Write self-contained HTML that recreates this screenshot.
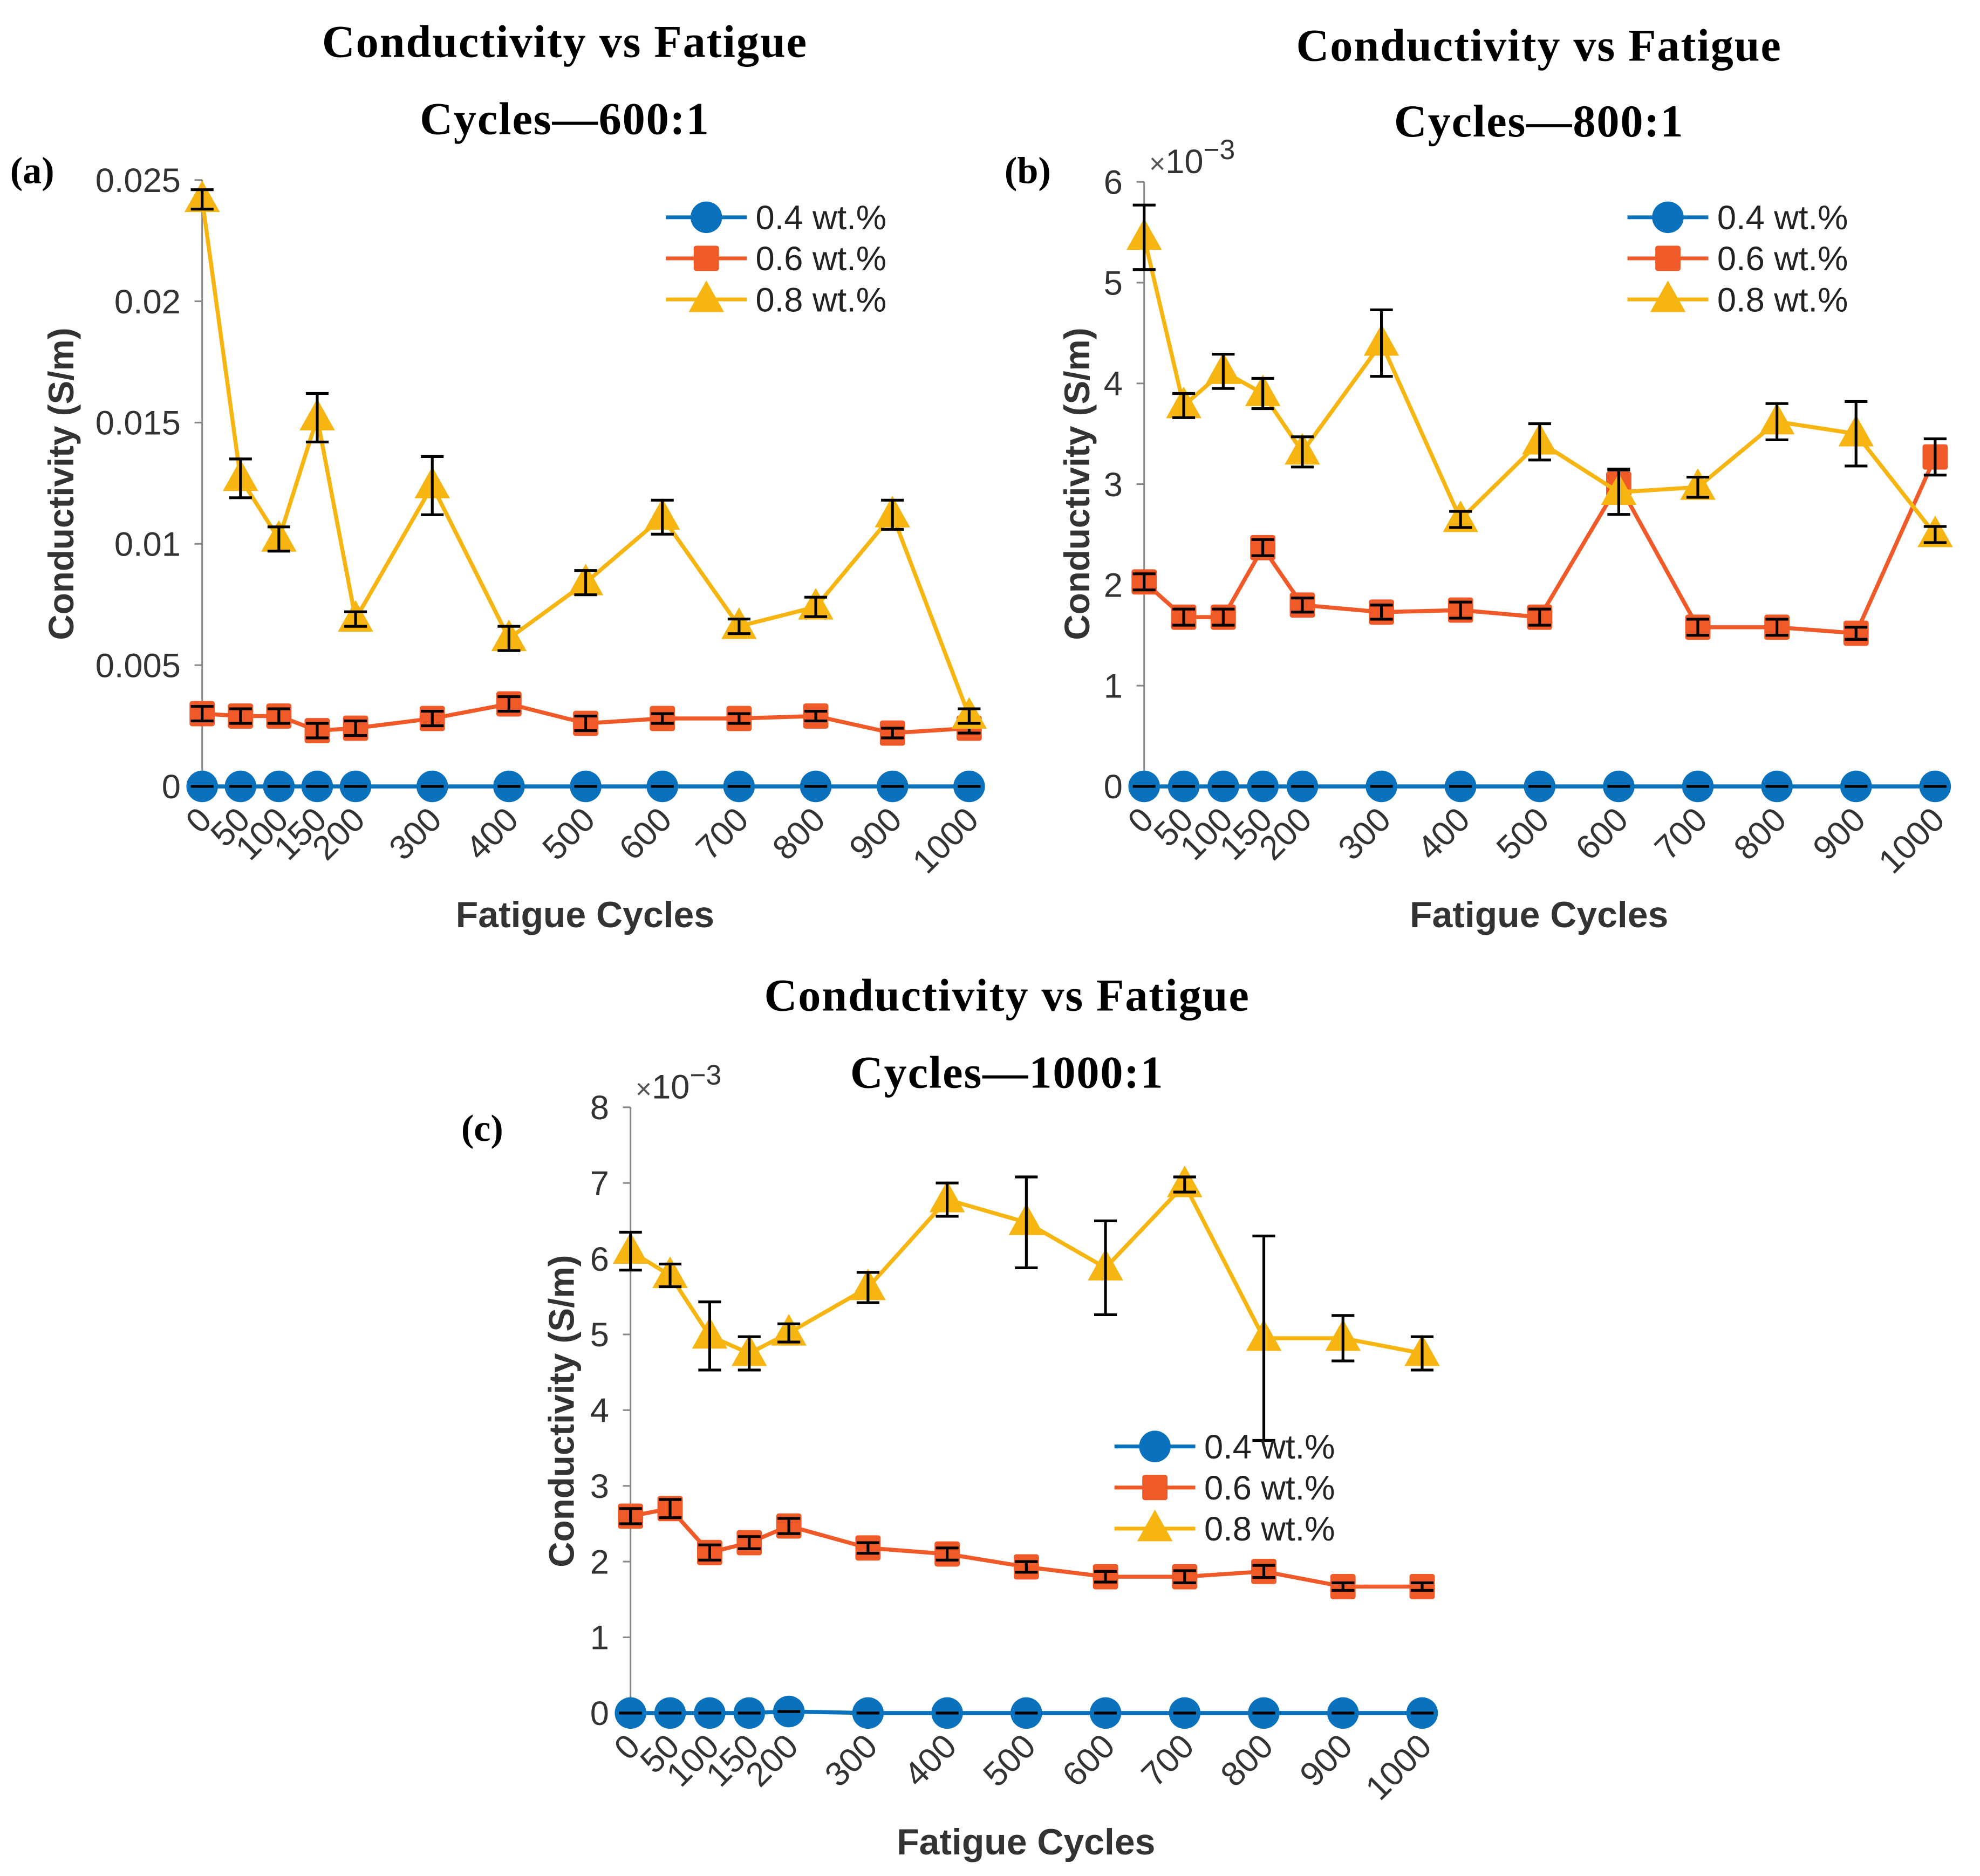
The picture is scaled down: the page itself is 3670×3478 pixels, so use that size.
<!DOCTYPE html>
<html><head><meta charset="utf-8"><style>
html,body{margin:0;padding:0;background:#fff;}
svg{display:block;}
</style></head><body>
<svg id="fig" width="3670" height="3478" viewBox="0 0 1567 1485" preserveAspectRatio="none" xmlns="http://www.w3.org/2000/svg">
<rect width="1567" height="1485" fill="#fff"/>
<g font-family="Liberation Serif, serif" font-weight="bold" font-size="36" fill="#000" text-anchor="middle" letter-spacing="0.8">
<text x="447" y="45">Conductivity vs Fatigue</text>
<text x="447" y="106">Cycles—600:1</text>
<text x="1218" y="48">Conductivity vs Fatigue</text>
<text x="1218" y="108">Cycles—800:1</text>
<text x="797" y="800">Conductivity vs Fatigue</text>
<text x="797" y="861">Cycles—1000:1</text>
</g>
<g font-family="Liberation Serif, serif" font-size="30" font-weight="bold" fill="#000">
<text x="8" y="145">(a)</text>
<text x="795" y="145">(b)</text>
<text x="365" y="903">(c)</text>
</g>
<g id="panels"></g>
</svg>
<script>
const cycles = [0,50,100,150,200,300,400,500,600,700,800,900,1000];
const seriesNames = ['0.4 wt.%','0.6 wt.%','0.8 wt.%'];
const zeroErr = [0,0,0,0,0,0,0,0,0,0,0,0,0];
// Panel (a) 600:1
const a04 = [0,0,0,0,0,0,0,0,0,0,0,0,0];
const a06 = [0.0030,0.0029,0.0029,0.0023,0.0024,0.0028,0.0034,0.0026,0.0028,0.0028,0.0029,0.0022,0.0024];
const a06err = [0.0003,0.0003,0.0003,0.0003,0.0003,0.0003,0.0003,0.0003,0.0002,0.0002,0.0002,0.0002,0.0002];
const a08 = [0.0242,0.0127,0.0102,0.0152,0.0069,0.0124,0.0061,0.0084,0.0111,0.0066,0.0074,0.0112,0.0029];
const a08err = [0.0004,0.0008,0.0005,0.0010,0.0003,0.0012,0.0005,0.0005,0.0007,0.0003,0.0004,0.0006,0.0003];
const aTicks = ['0','0.005','0.01','0.015','0.02','0.025'];
const aTickVals = [0,0.005,0.01,0.015,0.02,0.025];
// Panel (b) 800:1 (x10^-3)
const b04 = [0,0,0,0,0,0,0,0,0,0,0,0,0];
const b06 = [2.03,1.68,1.68,2.37,1.80,1.73,1.75,1.68,3.00,1.58,1.58,1.52,3.27];
const b06err = [0.08,0.08,0.08,0.08,0.07,0.07,0.08,0.08,0.15,0.08,0.08,0.06,0.18];
const b08 = [5.45,3.78,4.12,3.90,3.32,4.40,2.65,3.42,2.92,2.97,3.62,3.50,2.50];
const b08err = [0.32,0.12,0.17,0.15,0.15,0.33,0.08,0.18,0.22,0.10,0.18,0.32,0.08];
const bTicks = ['0','1','2','3','4','5','6'];
const bTickVals = [0,1,2,3,4,5,6];
// Panel (c) 1000:1 (x10^-3)
const c04 = [0,0,0,0,0.02,0,0,0,0,0,0,0,0];
const c06 = [2.60,2.70,2.12,2.25,2.47,2.18,2.10,1.93,1.80,1.80,1.87,1.67,1.67];
const c06err = [0.10,0.12,0.10,0.08,0.10,0.07,0.08,0.07,0.07,0.08,0.08,0.05,0.05];
const c08 = [6.10,5.78,4.98,4.75,5.02,5.62,6.78,6.48,5.88,6.98,4.95,4.95,4.75];
const c08err = [0.25,0.15,0.45,0.22,0.12,0.20,0.22,0.60,0.62,0.10,1.35,0.30,0.22];
const cTicks = ['0','1','2','3','4','5','6','7','8'];
const cTickVals = [0,1,2,3,4,5,6,7,8];

const NS='http://www.w3.org/2000/svg';
const COLORS=['#0a72bd','#f05a28','#f7b512'];
function mk(tag,attrs,parent){const e=document.createElementNS(NS,tag);for(const k in attrs)e.setAttribute(k,attrs[k]);parent.appendChild(e);return e;}

function drawPanel(id,cfg,s04,s06,s06e,s08,s08e,tickLabels,tickVals){
  const g=mk('g',{},document.getElementById('panels'));
  
  
  const xs=v=>cfg.x0+(v/1000)*(cfg.x1-cfg.x0);
  const ys=v=>cfg.y0-(v/cfg.ymax)*(cfg.y0-cfg.y1);
  const ax=mk('line',{x1:cfg.ax,x2:cfg.ax,y1:ys(0),y2:ys(cfg.ymax),stroke:'#888','stroke-width':1.3},g);
  
  
  tickVals.forEach((tv,i)=>{
    const tk=mk('line',{x1:cfg.ax-6,x2:cfg.ax,y1:ys(tv),y2:ys(tv),stroke:'#888','stroke-width':1.3},g);
    
    
    const t=mk('text',{x:cfg.ax-17,y:ys(tv)+9.5,'text-anchor':'end','font-family':'Liberation Sans, sans-serif','font-size':27,fill:'#333'},g);
    t.textContent=tickLabels[i];
    
    
  });
  if(cfg.exp){
    const t=mk('text',{x:cfg.ax+4,y:ys(cfg.ymax)-7,'font-family':'Liberation Sans, sans-serif','font-size':27,fill:'#333'},g);
    const s0=mk('tspan',{'font-size':22,fill:'#555'},t);s0.textContent='×';
    const s1=mk('tspan',{},t);s1.textContent='10';
    const s=mk('tspan',{dy:-11,'font-size':22},t);s.textContent='−3';
    
    
  }
  cycles.forEach(c=>{
    const x=xs(c)+9,y=cfg.y0+28;
    const t=mk('text',{x:x,y:y,'text-anchor':'end','font-family':'Liberation Sans, sans-serif','font-size':27,fill:'#333',transform:`rotate(-45 ${x} ${y})`},g);
    t.textContent=String(c);
    
    
  });
  const yt=mk('text',{x:cfg.ylx,y:cfg.yly,'text-anchor':'middle','font-family':'Liberation Sans, sans-serif','font-size':28,'font-weight':'bold',fill:'#333',transform:`rotate(-90 ${cfg.ylx} ${cfg.yly})`},g);
  yt.textContent='Conductivity (S/m)';
  
  
  const xt=mk('text',{x:cfg.xlx,y:cfg.xly,'text-anchor':'middle','font-family':'Liberation Sans, sans-serif','font-size':29,'font-weight':'bold',fill:'#333'},g);
  xt.textContent='Fatigue Cycles';
  
  

  const series=[[s04,zeroErr],[s06,s06e],[s08,s08e]];
  function marker(k,x,y,par){
    let m;
    if(k===0)m=mk('circle',{cx:x,cy:y,r:12.5,fill:COLORS[0]},par);
    else if(k===1)m=mk('rect',{x:x-10,y:y-10,width:20,height:20,rx:2,fill:COLORS[1]},par);
    else m=mk('polygon',{points:`${x},${y-15} ${x-14},${y+10} ${x+14},${y+10}`,fill:COLORS[2]},par);
    return m;
  }
  series.forEach(([vals,errs],k)=>{
    const sg=mk('g',{},g);
    
    
    const pl=mk('polyline',{points:vals.map((v,i)=>xs(cycles[i])+','+ys(v)).join(' '),fill:'none',stroke:COLORS[k],'stroke-width':3.2},sg);
    
    
    vals.forEach((v,i)=>{
      const m=marker(k,xs(cycles[i]),ys(v),sg);
      
      
    });
    vals.forEach((v,i)=>{
      const x=xs(cycles[i]),yh=ys(v+errs[i]),yl=ys(v-errs[i]);
      const e=mk('path',{d:`M${x},${yh}V${yl}M${x-9},${yh}H${x+9}M${x-9},${yl}H${x+9}`,stroke:'#000','stroke-width':2.2,fill:'none'},sg);
      
      
    });
  });
  const lg=mk('g',{},g);
  
  
  seriesNames.forEach((n,k)=>{
    const y=cfg.lgy+k*32.5;
    const eg=mk('g',{},lg);
    
    
    mk('line',{x1:cfg.lgx,x2:cfg.lgx+64,y1:y,y2:y,stroke:COLORS[k],'stroke-width':3},eg);
    marker(k,cfg.lgx+32,y,eg);
    const t=mk('text',{x:cfg.lgx+71,y:y+9.5,'font-family':'Liberation Sans, sans-serif','font-size':27,fill:'#222'},eg);
    t.textContent=n;
  });
}
drawPanel('a',{ax:160,x0:160,x1:767,y0:622.5,y1:142.5,ymax:0.025,ylx:58,yly:383,xlx:463,xly:734,lgx:527,lgy:172,exp:false},a04,a06,a06err,a08,a08err,aTicks,aTickVals);
drawPanel('b',{ax:905.5,x0:905.5,x1:1531.5,y0:622.5,y1:144,ymax:6,ylx:862,yly:383,xlx:1218,xly:734,lgx:1288,lgy:172,exp:true},b04,b06,b06err,b08,b08err,bTicks,bTickVals);
drawPanel('c',{ax:499,x0:499,x1:1125.5,y0:1356,y1:876.5,ymax:8,ylx:454,yly:1117,xlx:812,xly:1468,lgx:882,lgy:1145,exp:true},c04,c06,c06err,c08,c08err,cTicks,cTickVals);
</script>
</body></html>
